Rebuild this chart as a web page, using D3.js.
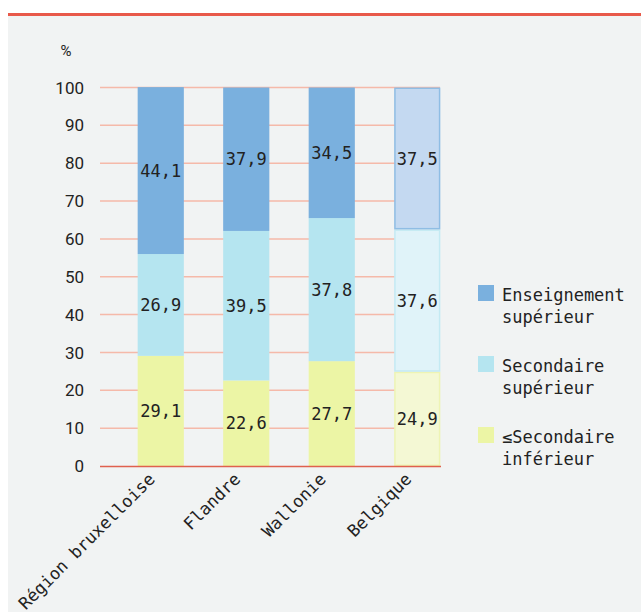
<!DOCTYPE html>
<html>
<head>
<meta charset="utf-8">
<script src="https://cdn.jsdelivr.net/npm/d3@7"></script>
<style>
  body { margin: 0; background: #fff; }
  svg { display: block; }
</style>
</head>
<body>
<div id="chart"></div>
<script>
// data
const regions = ["Région bruxelloise", "Flandre", "Wallonie", "Belgique"];
const levels = ["inf", "sec", "sup"];
const inferieur = [29.1, 22.6, 27.7, 24.9];
const secondaire = [26.9, 39.5, 37.8, 37.6];
const superieur = [44.1, 37.9, 34.5, 37.5];
const yTicks = [0, 10, 20, 30, 40, 50, 60, 70, 80, 90, 100];
const legendLabels = [["Enseignement", "supérieur"], ["Secondaire", "supérieur"], ["≤Secondaire", "inférieur"]];

const width = 641, height = 612;
const colors = { sup: "#7ab0de", sec: "#b5e5f0", inf: "#ecf5a5" };
const lightFill = { sup: "#c4d9f1", sec: "#e0f3f9", inf: "#f4f8d4" };
const lightStroke = { sup: "#8fbde4", sec: "#c4eaf3", inf: "#eef4b4" };
const monoFont = "'DejaVu Sans Mono', monospace";

const svg = d3.select("#chart").append("svg")
    .attr("width", width)
    .attr("height", height);

// panel background + red top rule
svg.append("rect").attr("x", 8).attr("y", 15).attr("width", width - 8).attr("height", height - 15)
    .attr("fill", "#f1f3f3");
svg.append("rect").attr("x", 8).attr("y", 13).attr("width", width - 8).attr("height", 3)
    .attr("fill", "#e8594a");

const x = d3.scaleBand().domain(regions).range([118, 460]).paddingInner(0.46).paddingOuter(0.23);
const y = d3.scaleLinear().domain([0, 100]).range([466, 87.5]);

const table = regions.map((r, i) => ({ region: r, inf: inferieur[i], sec: secondaire[i], sup: superieur[i] }));
const series = d3.stack().keys(levels)(table);

// gridlines
svg.append("g").selectAll("line")
    .data(yTicks.filter(d => d > 0))
    .enter().append("line")
    .attr("x1", 100).attr("x2", 440)
    .attr("y1", d => y(d)).attr("y2", d => y(d))
    .attr("stroke", "#f5b9a9").attr("stroke-width", 1.5);

// y tick labels
svg.append("g").selectAll("text")
    .data(yTicks)
    .enter().append("text")
    .attr("x", 84).attr("y", d => y(d))
    .attr("dy", "0.36em")
    .attr("text-anchor", "end")
    .style("font-family", "Roboto, 'DejaVu Sans', sans-serif")
    .style("font-size", "17px")
    .attr("fill", "#222")
    .text(d => d);

svg.append("text")
    .attr("x", 66).attr("y", 56)
    .attr("text-anchor", "middle")
    .style("font-family", "Roboto, 'DejaVu Sans', sans-serif")
    .style("font-size", "15px")
    .attr("fill", "#222")
    .text("%");

const isLight = r => r === "Belgique";

// bars
const groups = svg.append("g").selectAll("g")
    .data(series)
    .enter().append("g");

groups.selectAll("rect")
    .data(s => s.map(d => ({ key: s.key, d })))
    .enter().append("rect")
    .attr("x", o => x(o.d.data.region) + (isLight(o.d.data.region) ? 0.75 : 0))
    .attr("width", o => x.bandwidth() - (isLight(o.d.data.region) ? 1.5 : 0))
    .attr("y", o => y(o.d[1]) + (isLight(o.d.data.region) ? 0.75 : 0))
    .attr("height", o => y(o.d[0]) - y(o.d[1]) - (isLight(o.d.data.region) ? 1.5 : 0))
    .attr("fill", o => isLight(o.d.data.region) ? lightFill[o.key] : colors[o.key])
    .attr("stroke", o => isLight(o.d.data.region) ? lightStroke[o.key] : "none")
    .attr("stroke-width", 1.5);

// value labels
const fmt = v => d3.format(".1f")(v).replace(".", ",");
groups.selectAll("text")
    .data(s => s.map(d => ({ key: s.key, d })))
    .enter().append("text")
    .attr("x", o => x(o.d.data.region) + x.bandwidth() / 2)
    .attr("y", o => (y(o.d[0]) + y(o.d[1])) / 2)
    .attr("dy", "0.36em")
    .attr("text-anchor", "middle")
    .style("font-family", monoFont)
    .style("font-size", "17px")
    .attr("fill", "#222")
    .text(o => fmt(o.d.data[o.key]));

// baseline
svg.append("line")
    .attr("x1", 100).attr("x2", 441)
    .attr("y1", y(0) + 0.5).attr("y2", y(0) + 0.5)
    .attr("stroke", "#e0604e").attr("stroke-width", 1.5);

// x labels
svg.append("g").selectAll("text")
    .data(regions)
    .enter().append("text")
    .attr("transform", d => `translate(${x(d) + x.bandwidth() / 2 - 9},${y(0) + 10}) rotate(-45)`)
    .attr("text-anchor", "end")
    .attr("dy", "0.35em")
    .style("font-family", monoFont)
    .style("font-size", "17px")
    .attr("fill", "#222")
    .text(d => d);

// legend
const legendKeys = ["sup", "sec", "inf"];
const legend = svg.append("g").selectAll("g")
    .data(legendKeys)
    .enter().append("g")
    .attr("transform", (d, i) => `translate(478,${285 + i * 71})`);

legend.append("rect")
    .attr("width", 16).attr("height", 16)
    .attr("fill", d => colors[d]);

legend.append("text")
    .attr("x", 24).attr("y", 16)
    .style("font-family", monoFont)
    .style("font-size", "17px")
    .attr("fill", "#222")
    .selectAll("tspan")
    .data((d, i) => legendLabels[i])
    .enter().append("tspan")
    .attr("x", 24)
    .attr("dy", (t, j) => j === 0 ? 0 : 22)
    .text(t => t);
</script>
</body>
</html>
